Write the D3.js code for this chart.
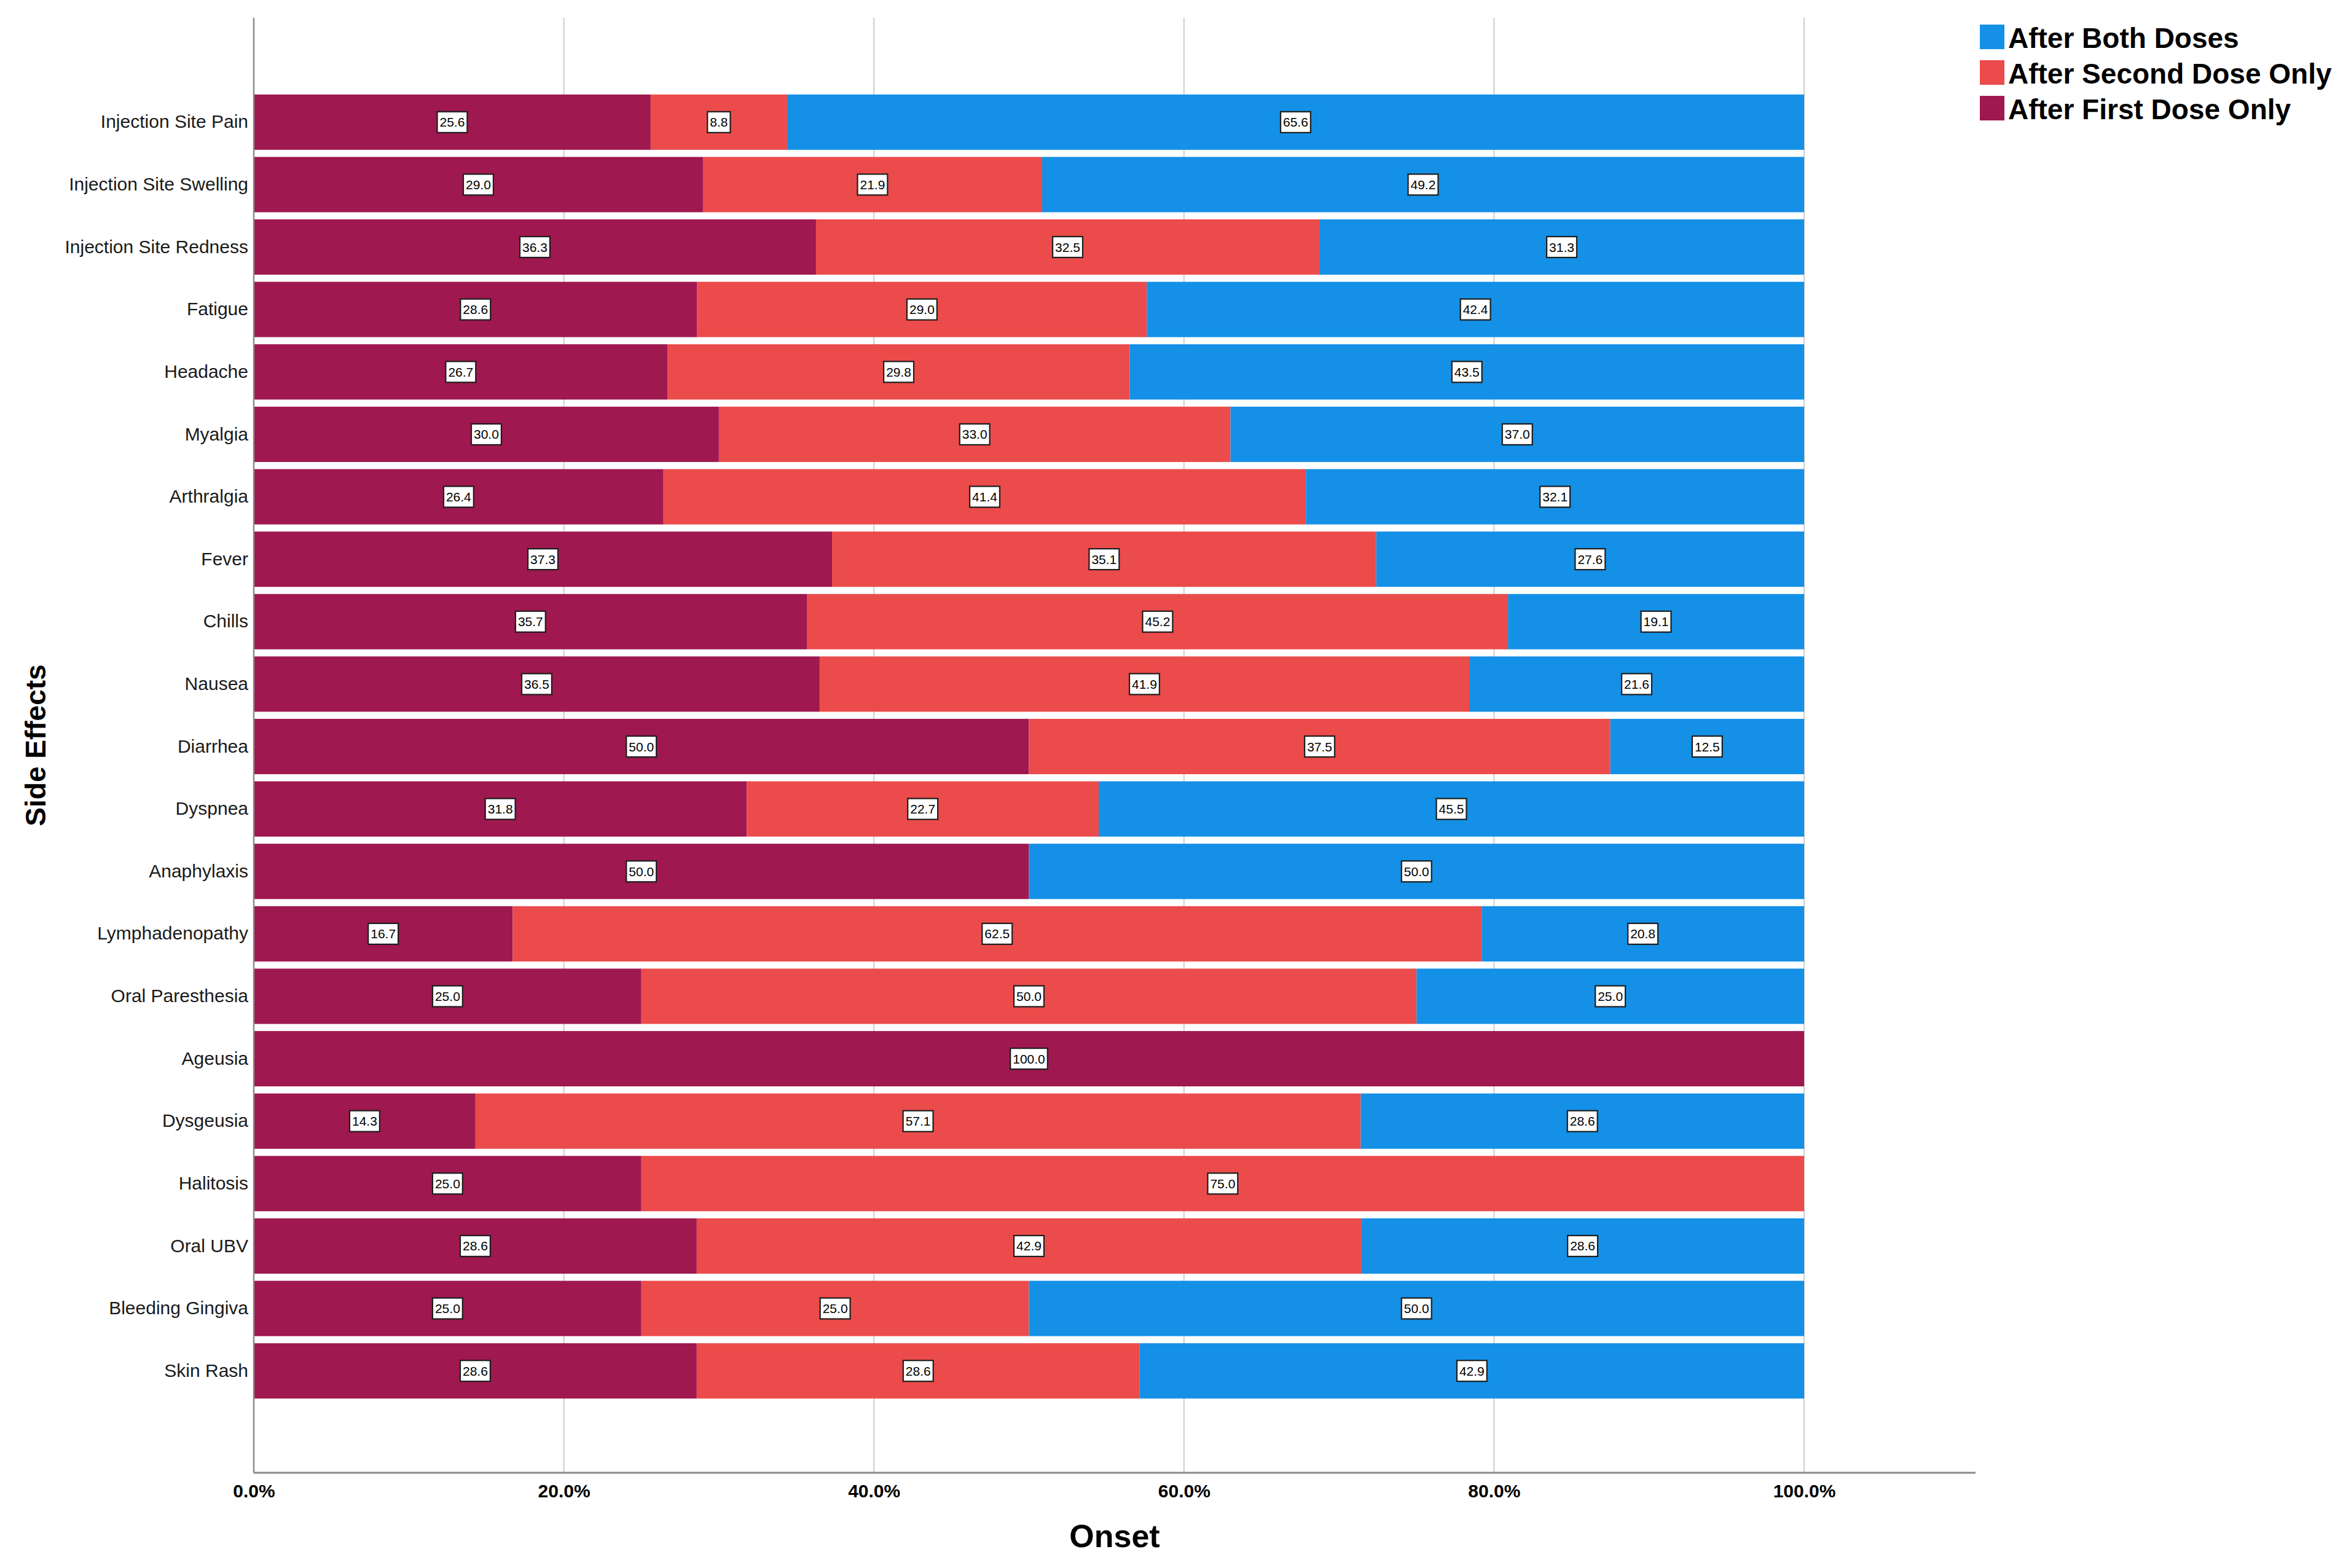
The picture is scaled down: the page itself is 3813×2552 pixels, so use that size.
<!DOCTYPE html>
<html>
<head>
<meta charset="utf-8">
<script src="https://cdn.jsdelivr.net/npm/d3@7"></script>
<style>
  html, body { margin: 0; padding: 0; background: #fff; }
  svg { display: block; font-family: "Liberation Sans", Arial, sans-serif; }
</style>
</head>
<body>
<svg id="chart" width="3813" height="2552"></svg>
<script>
// ---- data ----
const categories = [
  "Injection Site Pain", "Injection Site Swelling", "Injection Site Redness",
  "Fatigue", "Headache", "Myalgia", "Arthralgia", "Fever", "Chills", "Nausea",
  "Diarrhea", "Dyspnea", "Anaphylaxis", "Lymphadenopathy", "Oral Paresthesia",
  "Ageusia", "Dysgeusia", "Halitosis", "Oral UBV", "Bleeding Gingiva", "Skin Rash"
];
const firstDoseOnly  = [25.6, 29.0, 36.3, 28.6, 26.7, 30.0, 26.4, 37.3, 35.7, 36.5, 50.0, 31.8, 50.0, 16.7, 25.0, 100.0, 14.3, 25.0, 28.6, 25.0, 28.6];
const secondDoseOnly = [8.8, 21.9, 32.5, 29.0, 29.8, 33.0, 41.4, 35.1, 45.2, 41.9, 37.5, 22.7, 0, 62.5, 50.0, 0, 57.1, 75.0, 42.9, 25.0, 28.6];
const bothDoses      = [65.6, 49.2, 31.3, 42.4, 43.5, 37.0, 32.1, 27.6, 19.1, 21.6, 12.5, 45.5, 50.0, 20.8, 25.0, 0, 28.6, 0, 28.6, 50.0, 42.9];
const seriesNames = ["After First Dose Only", "After Second Dose Only", "After Both Doses"];
const seriesColors = ["#9f1850", "#ec4b4b", "#1490e6"];
const legendOrder = ["After Both Doses", "After Second Dose Only", "After First Dose Only"];
const xTicks = [0, 20, 40, 60, 80, 100];

// ---- layout ----
const svg = d3.select("#chart");
const plotLeft = 413, plotRight = 3215, plotTop = 29, plotBottom = 2397;

const x = d3.scaleLinear().domain([0, 100]).range([plotLeft, 2936]);
const y = d3.scaleBand().domain(categories).range([148, 2282]).paddingInner(0.114).paddingOuter(0.057);

const seriesData = [firstDoseOnly, secondDoseOnly, bothDoses];
const rows = categories.map((c, i) => {
  const row = { cat: c };
  seriesNames.forEach((s, k) => row[s] = seriesData[k][i]);
  return row;
});
const stack = d3.stack().keys(seriesNames).offset(d3.stackOffsetExpand);
const stacked = stack(rows);

// gridlines
svg.append("g").selectAll("line").data(xTicks.filter(t => t > 0)).join("line")
  .attr("x1", d => x(d)).attr("x2", d => x(d))
  .attr("y1", plotTop).attr("y2", plotBottom)
  .attr("stroke", "#cdcdcd").attr("stroke-width", 2);

// bars
const gBars = svg.append("g");
stacked.forEach((layer, k) => {
  gBars.append("g").attr("fill", seriesColors[k])
    .selectAll("rect").data(layer.filter(d => d[1] - d[0] > 0)).join("rect")
    .attr("x", d => x(d[0] * 100))
    .attr("width", d => x(d[1] * 100) - x(d[0] * 100))
    .attr("y", d => y(d.data.cat))
    .attr("height", y.bandwidth());
});

// axes lines
svg.append("line").attr("x1", plotLeft).attr("x2", plotLeft).attr("y1", plotTop).attr("y2", plotBottom)
  .attr("stroke", "#8a8a8a").attr("stroke-width", 2.5);
svg.append("line").attr("x1", plotLeft).attr("x2", plotRight).attr("y1", plotBottom).attr("y2", plotBottom)
  .attr("stroke", "#8a8a8a").attr("stroke-width", 3);

// x tick labels
const xAxis = d3.axisBottom(x).tickValues(xTicks).tickSize(0).tickPadding(0)
  .tickFormat(d => d.toFixed(1) + "%");
const gx = svg.append("g").attr("transform", `translate(0,${plotBottom})`).call(xAxis);
gx.select(".domain").remove();
gx.selectAll("text").attr("y", 40).attr("dy", null)
  .attr("font-size", 30).attr("font-weight", "bold").attr("fill", "#000")
  .attr("font-family", "'Liberation Sans', Arial, sans-serif");

// y labels
const yAxis = d3.axisLeft(y).tickSize(0).tickPadding(9);
const gy = svg.append("g").attr("transform", `translate(${plotLeft},0)`).call(yAxis);
gy.select(".domain").remove();
gy.selectAll("text").attr("font-size", 30).attr("fill", "#1a1a1a")
  .attr("font-family", "'Liberation Sans', Arial, sans-serif");

// value labels
const gLab = svg.append("g");
stacked.forEach((layer, k) => {
  layer.forEach((d, i) => {
    const v = seriesData[k][i];
    if (!(v > 0)) return;
    const cx = x((d[0] + d[1]) / 2 * 100);
    const cy = y(d.data.cat) + y.bandwidth() / 2;
    const g = gLab.append("g");
    const rect = g.append("rect");
    const t = g.append("text").attr("x", cx).attr("y", cy)
      .attr("text-anchor", "middle").attr("dominant-baseline", "central")
      .attr("font-size", 21).attr("fill", "#000").text(v.toFixed(1));
    const w = t.node().getComputedTextLength() + 8;
    rect.attr("x", cx - w / 2).attr("y", cy - 17).attr("width", w).attr("height", 34)
      .attr("fill", "#fff").attr("stroke", "#1e1e1e").attr("stroke-width", 2.2);
  });
});

// axis titles
svg.append("text").attr("x", (plotLeft + plotRight) / 2).attr("y", 2500)
  .attr("text-anchor", "middle").attr("dominant-baseline", "central")
  .attr("font-size", 52).attr("font-weight", "bold").attr("fill", "#000").text("Onset");
svg.append("text").attr("transform", `translate(58,${(plotTop + plotBottom) / 2}) rotate(-90)`)
  .attr("text-anchor", "middle").attr("dominant-baseline", "central")
  .attr("font-size", 46).attr("font-weight", "bold").attr("fill", "#000").text("Side Effects");

// legend
const legend = svg.append("g").selectAll("g").data(legendOrder).join("g")
  .attr("transform", (d, i) => `translate(3222,${40 + i * 58})`);
legend.append("rect").attr("width", 40).attr("height", 40)
  .attr("fill", d => seriesColors[seriesNames.indexOf(d)]);
legend.append("text").attr("x", 46).attr("y", 22).attr("dominant-baseline", "central")
  .attr("font-size", 46).attr("font-weight", "bold").attr("fill", "#000").text(d => d);
</script>
</body>
</html>
